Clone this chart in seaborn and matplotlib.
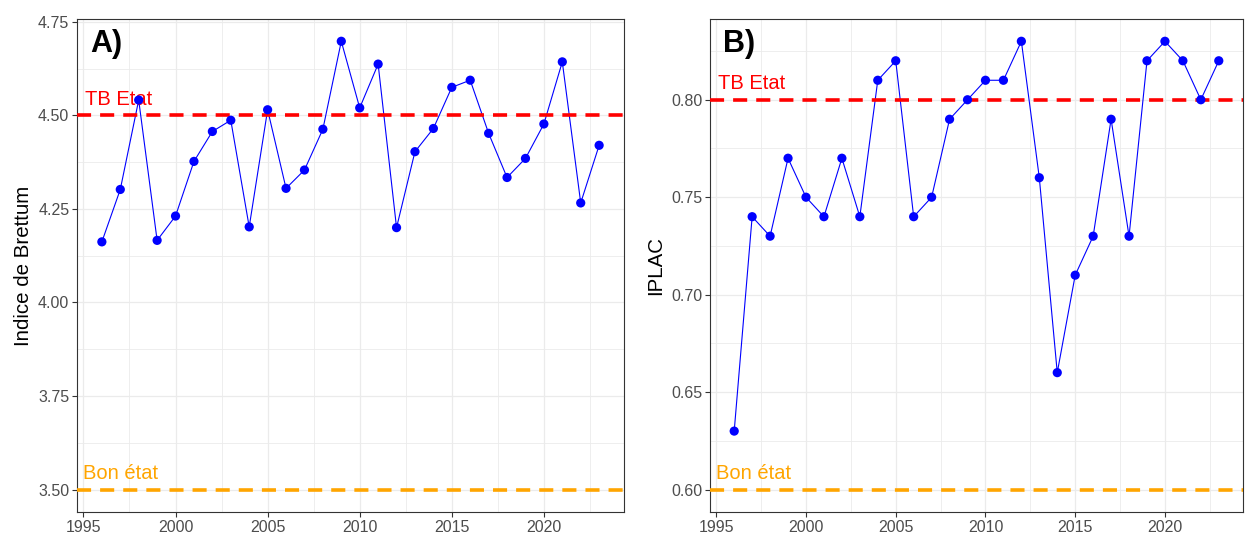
import numpy as np
import pandas as pd
import seaborn as sns
import matplotlib.pyplot as plt
from matplotlib.ticker import MultipleLocator

years = list(range(1996, 2024))

brettum = [4.162, 4.302, 4.541, 4.166, 4.231, 4.377, 4.457, 4.487, 4.202, 4.515,
           4.305, 4.354, 4.463, 4.698, 4.520, 4.637, 4.200, 4.403, 4.465, 4.575,
           4.594, 4.452, 4.334, 4.385, 4.477, 4.643, 4.266, 4.420]

iplac = [0.63, 0.74, 0.73, 0.77, 0.75, 0.74, 0.77, 0.74, 0.81, 0.82,
         0.74, 0.75, 0.79, 0.80, 0.81, 0.81, 0.83, 0.76, 0.66, 0.71,
         0.73, 0.79, 0.73, 0.82, 0.83, 0.82, 0.80, 0.82]

# thresholds: (very good, good)
brettum_limits = (4.5, 3.5)
iplac_limits = (0.80, 0.60)

df = pd.DataFrame({"annee": years, "brettum": brettum, "iplac": iplac})

sns.set_theme(style="whitegrid")
plt.rcParams["font.family"] = ["Liberation Sans", "DejaVu Sans"]

fig = plt.figure(figsize=(12.46, 5.36), dpi=100)
ax_a = fig.add_axes([0.0618, 0.0448, 0.4390, 0.9200])
ax_b = fig.add_axes([0.5698, 0.0448, 0.4278, 0.9200])


def panel(ax, col, limits, ylabel, tag, ystep):
    sns.lineplot(data=df, x="annee", y=col, ax=ax, color="blue", lw=0.8)
    sns.scatterplot(data=df, x="annee", y=col, ax=ax, color="blue",
                    s=44, edgecolor="none", zorder=4)
    tb, bon = limits
    ax.axhline(tb, color="red", lw=2.6, dashes=(3.9, 2.5), zorder=3)
    ax.axhline(bon, color="orange", lw=2.6, dashes=(3.9, 2.5), zorder=3)

    tr = ax.get_yaxis_transform()
    ax.annotate("TB Etat", xy=(0.015, tb), xycoords=tr, xytext=(0, 7.5),
                textcoords="offset points", color="red", fontsize=14.5,
                ha="left", va="baseline")
    ax.annotate("Bon état", xy=(0.011, bon), xycoords=tr, xytext=(0, 7.5),
                textcoords="offset points", color="orange", fontsize=14.5,
                ha="left", va="baseline")
    ax.text(0.024, 0.95, tag, transform=ax.transAxes, fontsize=22,
            fontweight="bold", ha="left", va="center", color="black")

    # ggplot-like expansion of 5%
    lo = min(df[col].min(), bon)
    hi = max(df[col].max(), tb)
    pad = (hi - lo) * 0.05
    ax.set_ylim(lo - pad, hi + pad)
    ax.set_xlim(1996 - 1.35, 2023 + 1.35)

    ax.xaxis.set_major_locator(MultipleLocator(5))
    ax.xaxis.set_minor_locator(MultipleLocator(2.5))
    ax.yaxis.set_major_locator(MultipleLocator(ystep))
    ax.yaxis.set_minor_locator(MultipleLocator(ystep / 2))
    ax.yaxis.set_major_formatter(plt.FormatStrFormatter("%.2f"))

    ax.grid(which="major", color="#EBEBEB", lw=0.9)
    ax.grid(which="minor", color="#EBEBEB", lw=0.6)
    ax.set_axisbelow(True)
    for s in ax.spines.values():
        s.set_color("#333333")
        s.set_linewidth(0.8)
    ax.tick_params(which="major", length=3.5, width=0.8, color="#333333",
                   labelsize=11.5, labelcolor="#4D4D4D", pad=2,
                   bottom=True, left=True)
    ax.tick_params(which="minor", length=0)
    ax.set_xlabel("")
    ax.set_ylabel(ylabel, fontsize=14.8, color="black", labelpad=4)


panel(ax_a, "brettum", brettum_limits, "Indice de Brettum", "A)", 0.25)
panel(ax_b, "iplac", iplac_limits, "IPLAC", "B)", 0.05)

fig.savefig("out.png", dpi=100, facecolor="white")
